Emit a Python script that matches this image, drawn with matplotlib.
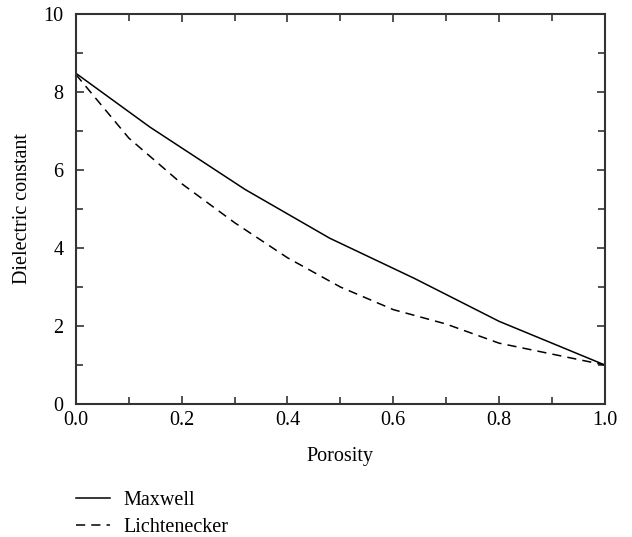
import matplotlib
matplotlib.use("Agg")
import matplotlib.pyplot as plt
from matplotlib.ticker import MultipleLocator

plt.rcParams['font.family'] = ['Liberation Serif', 'DejaVu Serif']

# porosity vs. effective dielectric constant
porosity_maxwell = [0.0, 0.14, 0.32, 0.48, 0.64, 0.80, 1.0]
eps_maxwell = [8.48, 7.10, 5.50, 4.25, 3.22, 2.12, 1.0]

porosity_licht = [0.0, 0.1, 0.2, 0.3, 0.4, 0.5, 0.6, 0.7, 0.8, 0.9, 1.0]
eps_licht = [8.45, 6.82, 5.65, 4.65, 3.75, 3.0, 2.42, 2.05, 1.56, 1.28, 1.0]

fig = plt.figure(figsize=(6.32, 5.37), dpi=100)
ax = fig.add_axes([0.120, 0.2477, 0.837, 0.7263])

l1, = ax.plot(porosity_maxwell, eps_maxwell, color='black', lw=1.1, label='Maxwell')
l2, = ax.plot(porosity_licht, eps_licht, color='black', lw=1.1, ls=(0, (6, 4)), label='Lichtenecker')

ax.set_xlim(0, 1)
ax.set_ylim(0, 10)
ax.xaxis.set_major_locator(MultipleLocator(0.2))
ax.xaxis.set_minor_locator(MultipleLocator(0.1))
ax.yaxis.set_major_locator(MultipleLocator(2))
ax.yaxis.set_minor_locator(MultipleLocator(1))
ax.set_xticklabels([f'{v:.1f}' for v in ax.get_xticks()])
ax.tick_params(which='both', direction='in', top=True, right=True,
               labelsize=14.5, color='#333333', width=1.2)
ax.tick_params(axis='x', which='major', length=6, pad=5)
ax.tick_params(axis='y', which='major', length=6, pad=9)
ax.tick_params(which='minor', length=5)
for s in ax.spines.values():
    s.set_linewidth(1.5)
    s.set_color('#333333')

ax.set_xlabel('Porosity', fontsize=14.5, labelpad=12)
ax.set_ylabel('Dielectric constant', fontsize=14.5, labelpad=8)

fig.legend(handles=[l1, l2], loc='upper left', bbox_to_anchor=(0.107, 0.1),
           bbox_transform=fig.transFigure, frameon=False, fontsize=14.5,
           handlelength=1.7, handletextpad=0.65, labelspacing=0.35,
           borderaxespad=0)

fig.savefig('out.png', dpi=100)
